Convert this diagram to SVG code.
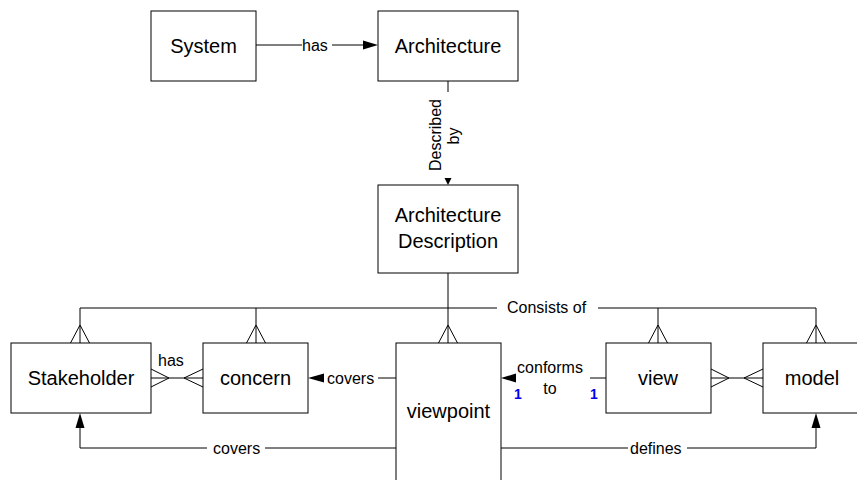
<svg xmlns="http://www.w3.org/2000/svg" width="857" height="480" viewBox="0 0 857 480">
<style>
.box{fill:#fff;stroke:#000;stroke-width:1}
.ln{fill:none;stroke:#000;stroke-width:1}
.ah{fill:#000;stroke:none}
.nt{font-family:"Liberation Sans",Arial,sans-serif;font-size:20px;text-anchor:middle;fill:#000}
.lb{font-family:"Liberation Sans",Arial,sans-serif;font-size:16px;fill:#000}
.one{font-family:"Liberation Sans",Arial,sans-serif;font-size:14px;font-weight:bold;fill:#0000ee;text-anchor:middle}
</style>
<rect width="857" height="480" fill="#fff"/>
<g id="connectors">
  <!-- System has Architecture -->
  <path class="ln" d="M256 45H302M332 45H364"/>
  <polygon class="ah" points="378,45 363,40.5 363,49.5"/>
  <text class="lb" x="302" y="51">has</text>
  <!-- Described by -->
  <path class="ln" d="M448 81V92"/>
  <polygon class="ah" points="448,185 444.5,178 451.5,178"/>
  <text class="lb" text-anchor="middle" transform="translate(441,135) rotate(-90)">Described</text>
  <text class="lb" text-anchor="middle" transform="translate(459,136) rotate(-90)">by</text>
  <!-- Consists of bus -->
  <path class="ln" d="M80 343V308H497M598 308H816V343M256 308V343M448 273V343M658 308V343"/>
  <path class="ln" d="M70.5 343L80 325L89.5 343M246.5 343L256 325L265.5 343M438.5 343L448 325L457.5 343M648.5 343L658 325L667.5 343M806.5 343L816 325L825.5 343"/>
  <text class="lb" x="507" y="313">Consists of</text>
  <!-- Stakeholder has concern -->
  <path class="ln" d="M151 378H203M151 369L169 378L151 387M203 369L184 378L203 387"/>
  <text class="lb" x="158" y="366">has</text>
  <!-- view - model -->
  <path class="ln" d="M711 378H763M711 369L729 378L711 387M763 369L744 378L763 387"/>
  <!-- viewpoint covers concern -->
  <path class="ln" d="M378 378H396"/>
  <polygon class="ah" points="308,378 324,373.5 324,382.5"/>
  <text class="lb" x="327" y="384">covers</text>
  <!-- view conforms to viewpoint -->
  <path class="ln" d="M590 378H606"/>
  <polygon class="ah" points="501,378 516,373.5 516,382.5"/>
  <text class="lb" x="550" y="373" text-anchor="middle">conforms</text>
  <text class="lb" x="550" y="394" text-anchor="middle">to</text>
  <text class="one" x="518" y="399">1</text>
  <text class="one" x="594" y="399">1</text>
  <!-- viewpoint covers Stakeholder -->
  <path class="ln" d="M396 448H265M207 448H80V427"/>
  <polygon class="ah" points="80,413 75.5,428 84.5,428"/>
  <text class="lb" x="213" y="454">covers</text>
  <!-- viewpoint defines model -->
  <path class="ln" d="M501 448H628M687 448H816V427"/>
  <polygon class="ah" points="816,413 811.5,428 820.5,428"/>
  <text class="lb" x="630" y="454">defines</text>
</g>
<g id="system"><rect class="box" x="151" y="11" width="105" height="70"/><text class="nt" x="203.5" y="53">System</text></g>
<g id="architecture"><rect class="box" x="378" y="11" width="140" height="70"/><text class="nt" x="448" y="53">Architecture</text></g>
<g id="architecture-description"><rect class="box" x="378" y="185" width="140" height="88"/><text class="nt" x="448" y="222">Architecture</text><text class="nt" x="448" y="248">Description</text></g>
<g id="stakeholder"><rect class="box" x="11" y="343" width="140" height="70"/><text class="nt" x="81" y="385">Stakeholder</text></g>
<g id="concern"><rect class="box" x="203" y="343" width="105" height="70"/><text class="nt" x="255.5" y="385">concern</text></g>
<g id="viewpoint"><rect class="box" x="396" y="343" width="105" height="160"/><text class="nt" x="448.5" y="418">viewpoint</text></g>
<g id="view"><rect class="box" x="606" y="343" width="105" height="70"/><text class="nt" x="658" y="385">view</text></g>
<g id="model"><rect class="box" x="763" y="343" width="110" height="70"/><text class="nt" x="812" y="385">model</text></g>
</svg>
